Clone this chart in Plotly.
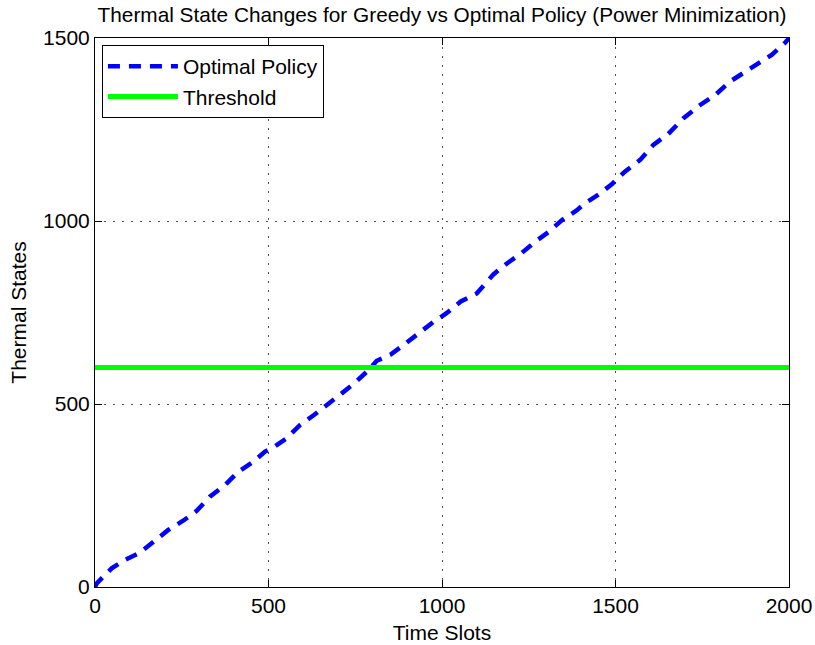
import plotly.graph_objects as go

# Sampled trajectory of the thermal state under the optimal policy
time_slots = [0, 5, 48, 86, 130, 168, 211, 254, 293, 331, 375, 413, 456, 490, 514,
              552, 591, 631, 672, 711, 749, 783, 812, 852, 893, 934, 975, 1013,
              1054, 1100, 1148, 1187, 1230, 1268, 1307, 1345, 1388, 1412, 1451,
              1490, 1527, 1571, 1609, 1652, 1696, 1744, 1787, 1830, 1868, 1907,
              1950, 1989, 2000]
thermal_states = [0, 10, 51, 74, 94, 124, 156, 181, 208, 247, 279, 315, 342, 370, 382,
                  406, 443, 470, 499, 529, 558, 588, 618, 635, 664, 695, 724, 748,
                  780, 802, 854, 884, 913, 943, 970, 1002, 1029, 1048, 1072,
                  1101, 1135, 1167, 1208, 1238, 1281, 1317, 1344, 1381, 1404, 1426,
                  1454, 1487, 1500]

threshold_value = 600
x_range = [0, 2000]
y_range = [0, 1500]

FONT = "Liberation Sans, Arial"

fig = go.Figure()

fig.add_trace(go.Scatter(
    x=time_slots, y=thermal_states, mode="lines", name="Optimal Policy",
    line=dict(color="rgb(0,0,255)", width=4.5, dash="12px,9px"),
))

fig.add_trace(go.Scatter(
    x=x_range, y=[threshold_value, threshold_value], mode="lines", name="Threshold",
    line=dict(color="rgb(0,255,0)", width=5),
))

axis_common = dict(
    showline=True, linecolor="black", linewidth=1, mirror="ticks",
    ticks="inside", ticklen=7, tickcolor="black",
    showgrid=True, gridcolor="rgb(80,80,80)", griddash="1.5px,7.5px", gridwidth=1,
    zeroline=False, automargin=False,
    tickfont=dict(family=FONT, size=21, color="black"),
    title_font=dict(family=FONT, size=21, color="black"),
)

fig.update_layout(
    width=815, height=645,
    margin=dict(l=95, r=26, t=38, b=58),
    paper_bgcolor="white", plot_bgcolor="white",
    title=dict(
        text="Thermal State Changes for Greedy vs Optimal Policy (Power Minimization)",
        x=0.5, xref="paper", xanchor="center",
        y=1 - 15 / 645, yanchor="middle",
        font=dict(family=FONT, size=20.8, color="black"),
    ),
    xaxis=dict(range=x_range, tickvals=[0, 500, 1000, 1500, 2000],
               title=dict(text="Time Slots", standoff=9), **axis_common),
    yaxis=dict(range=y_range, tickvals=[0, 500, 1000, 1500],
               title=dict(text="Thermal States", standoff=10), **axis_common),
    legend=dict(
        x=0.01, y=0.987, xanchor="left", yanchor="top",
        bgcolor="white", bordercolor="black", borderwidth=1,
        font=dict(family=FONT, size=21, color="black"),
        itemwidth=70, tracegroupgap=0,
    ),
    showlegend=True,
)

fig.write_html("out.html")
